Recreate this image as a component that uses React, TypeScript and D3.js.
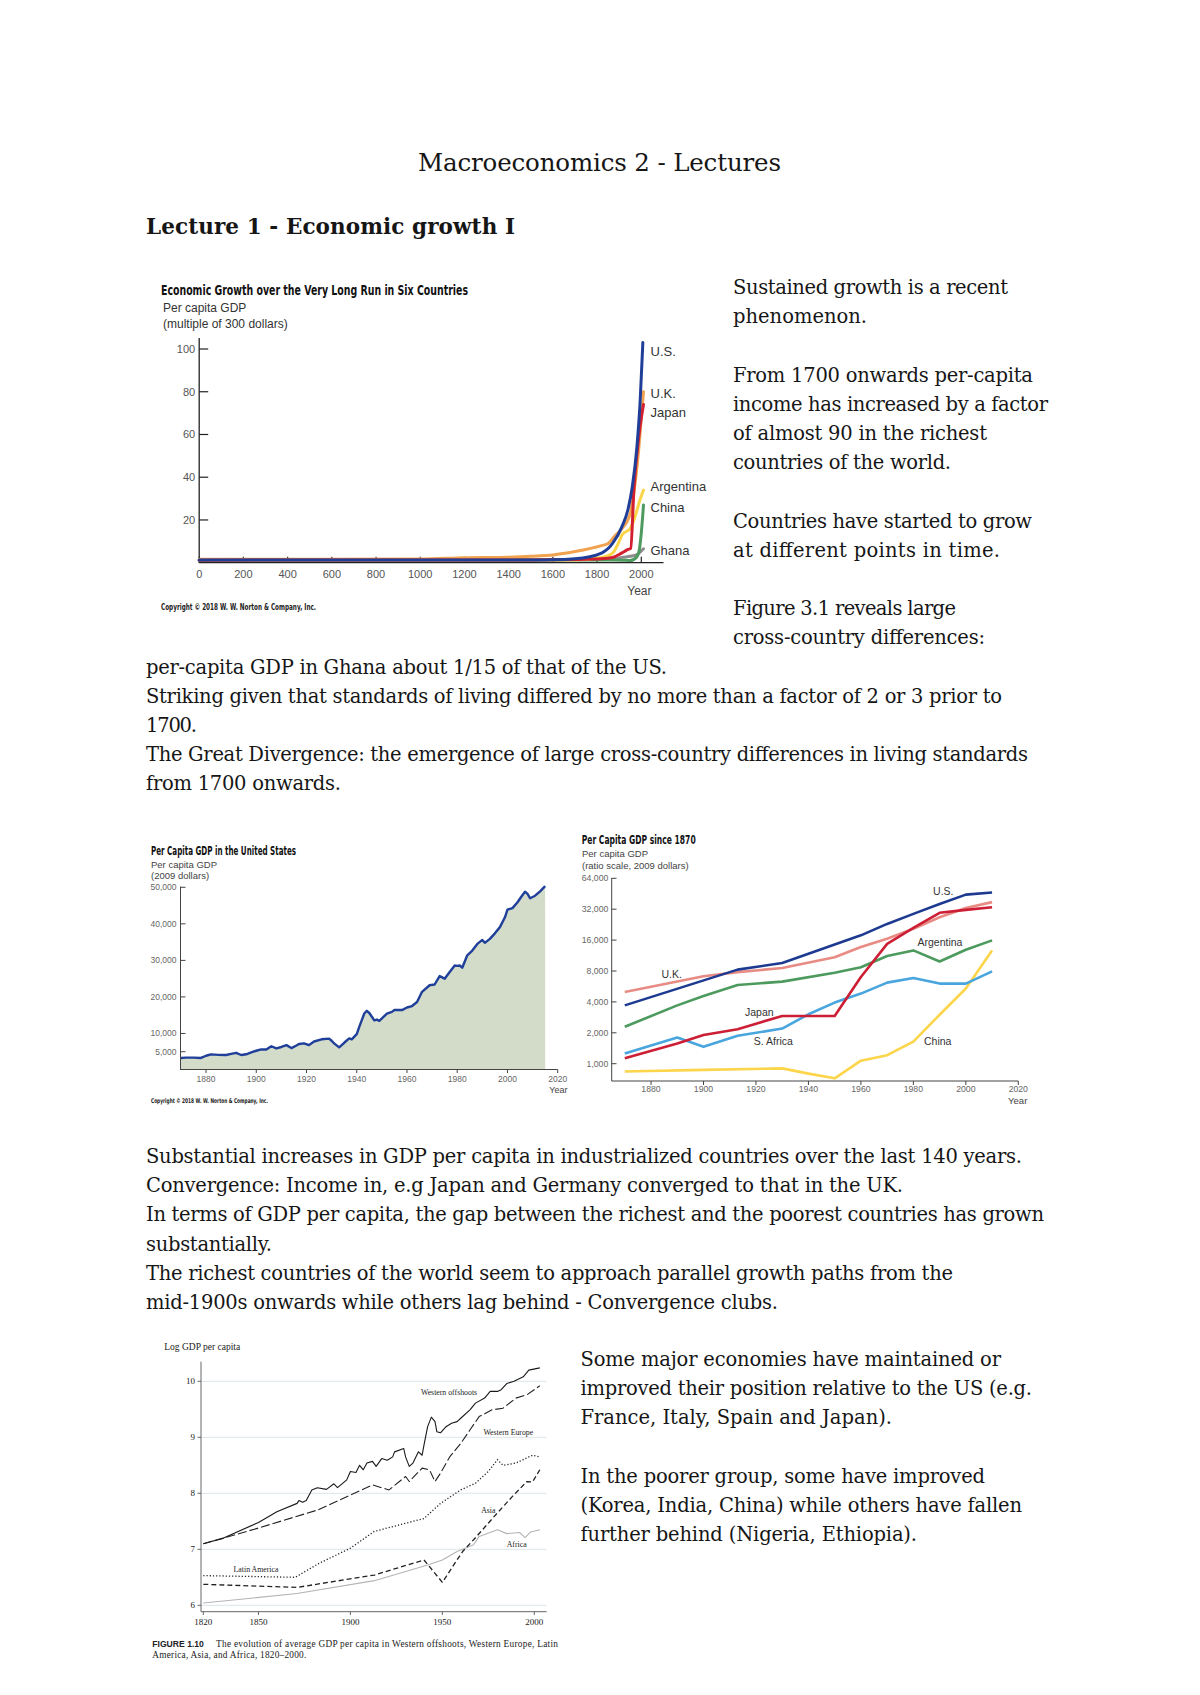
import React from "react";
import * as d3 from "d3";

type Pt = [number, number];

// ---------------- Page text ----------------
const pageTitle = "Macroeconomics 2 - Lectures";
const sectionTitle = "Lecture 1 - Economic growth I";

const sideText1 = [
  "Sustained growth is a recent",
  "phenomenon.",
  "",
  "From 1700 onwards per-capita",
  "income has increased by a factor",
  "of almost 90 in the richest",
  "countries of the world.",
  "",
  "Countries have started to grow",
  "at different points in time.",
  "",
  "Figure 3.1 reveals large",
  "cross-country differences:",
];
const wideText1 = [
  "per-capita GDP in Ghana about 1/15 of that of the US.",
  "Striking given that standards of living differed by no more than a factor of 2 or 3 prior to",
  "1700.",
  "The Great Divergence: the emergence of large cross-country differences in living standards",
  "from 1700 onwards.",
];
const wideText2 = [
  "Substantial increases in GDP per capita in industrialized countries over the last 140 years.",
  "Convergence: Income in, e.g Japan and Germany converged to that in the UK.",
  "In terms of GDP per capita, the gap between the richest and the poorest countries has grown",
  "substantially.",
  "The richest countries of the world seem to approach parallel growth paths from the",
  "mid-1900s onwards while others lag behind - Convergence clubs.",
];
const sideText3 = [
  "Some major economies have maintained or",
  "improved their position relative to the US (e.g.",
  "France, Italy, Spain and Japan).",
  "",
  "In the poorer group, some have improved",
  "(Korea, India, China) while others have fallen",
  "further behind (Nigeria, Ethiopia).",
];

// layout: right edges of each text line (to match the reference line lengths)
const sideEdges1 = [1008, 867, 0, 1033, 1048, 987, 951, 0, 1032, 1000, 0, 956, 985];
const wideEdges1 = [667, 1002, 197, 1028, 341];
const wideEdges2 = [1022, 903, 1044, 272, 953, 778];
const sideEdges3 = [1001, 1032, 892, 0, 985, 1022, 917];

// ---------------- Chart 1: very long run (multiple of 300 dollars) ----------------
const longRunXTicks = [0, 200, 400, 600, 800, 1000, 1200, 1400, 1600, 1800, 2000];
const longRunYTicks = [20, 40, 60, 80, 100];
const longUS: Pt[] = [[0, 1.3], [1000, 1.3], [1500, 1.3], [1600, 1.35], [1700, 1.8], [1820, 4.5], [1870, 9], [1913, 17], [1940, 25], [1960, 36], [1980, 54], [1995, 76], [2007, 103]];
const longUK: Pt[] = [[0, 1.6], [1000, 1.7], [1200, 2.3], [1400, 2.6], [1500, 3], [1600, 3.6], [1700, 5.2], [1820, 8], [1850, 9], [1880, 12.5], [1913, 16], [1950, 23], [1973, 38], [1990, 55], [2000, 68], [2010, 80]];
const longJapan: Pt[] = [[0, 1.2], [1500, 1.3], [1600, 1.4], [1700, 1.5], [1820, 1.8], [1870, 2.4], [1913, 4.6], [1940, 6.2], [1952, 6.7], [1967, 35], [1990, 60], [2010, 74]];
const longArgentina: Pt[] = [[0, 1.2], [1700, 1.3], [1820, 2.5], [1870, 4.5], [1900, 10], [1913, 13], [1950, 16], [1973, 22], [1990, 28], [2010, 34]];
const longChina: Pt[] = [[0, 1.3], [1800, 1.3], [1870, 1.3], [1913, 1.2], [1950, 1.0], [1978, 2.5], [1990, 5.5], [2000, 14], [2010, 27]];
const longGhana: Pt[] = [[0, 1.2], [1870, 1.5], [1913, 2.5], [1950, 3], [1980, 3.8], [2010, 6.5]];

// ---------------- Chart 2: US per capita GDP (2009 dollars) ----------------
const usXTicks = [1880, 1900, 1920, 1940, 1960, 1980, 2000, 2020];
const usYTicks = [5000, 10000, 20000, 30000, 40000, 50000];
const usGdp: Pt[] = [
  [1870, 3300], [1872, 3400], [1875, 3400], [1878, 3300], [1880, 3900], [1882, 4270], [1885, 4150], [1888, 4100],
  [1890, 4400], [1892, 4700], [1894, 4100], [1896, 4300], [1898, 4800], [1900, 5270], [1902, 5640], [1904, 5600],
  [1906, 6500], [1908, 5900], [1910, 6300], [1912, 6800], [1914, 6000], [1916, 6700], [1917, 7100], [1919, 7300],
  [1921, 6800], [1923, 7800], [1926, 8400], [1929, 8600], [1930, 8000], [1931, 7300], [1933, 6200], [1935, 7450],
  [1937, 8640], [1938, 8400], [1940, 9800], [1941, 11800], [1943, 15450], [1944, 16200], [1945, 15600], [1947, 13600],
  [1948, 13800], [1949, 13450], [1952, 15450], [1954, 15900], [1955, 16400], [1958, 16400], [1960, 17100], [1962, 17500],
  [1964, 18600], [1966, 21400], [1969, 23200], [1971, 23400], [1973, 25700], [1975, 25000], [1977, 26800], [1979, 28600],
  [1980, 28500], [1981, 28600], [1982, 28000], [1984, 31400], [1986, 32700], [1988, 34500], [1990, 35600], [1991, 34800],
  [1993, 35900], [1995, 37400], [1997, 39100], [1999, 41800], [2000, 43900], [2002, 44300], [2004, 45900], [2006, 47900],
  [2007, 48800], [2008, 48200], [2009, 47000], [2011, 47700], [2013, 48900], [2015, 50300],
];

// ---------------- Chart 3: per capita GDP since 1870 (ratio scale) ----------------
const ratioXTicks = [1880, 1900, 1920, 1940, 1960, 1980, 2000, 2020];
const ratioYTicks = [1000, 2000, 4000, 8000, 16000, 32000, 64000];
const ratioUS: Pt[] = [[1870, 3700], [1913, 8250], [1930, 9570], [1950, 14500], [1960, 17800], [1970, 23000], [1980, 28800], [1990, 36000], [2000, 44400], [2010, 46500]];
const ratioUK: Pt[] = [[1870, 5000], [1900, 7100], [1913, 7800], [1930, 8550], [1950, 10900], [1960, 13700], [1970, 16500], [1980, 20600], [1990, 26700], [2000, 32900], [2010, 37500]];
const ratioJapan: Pt[] = [[1870, 1130], [1890, 1570], [1900, 1900], [1913, 2170], [1930, 2920], [1950, 2920], [1960, 7000], [1970, 14700], [1980, 21000], [1990, 29500], [2000, 31500], [2010, 33400]];
const ratioArgentina: Pt[] = [[1870, 2290], [1890, 3700], [1900, 4570], [1913, 5850], [1930, 6300], [1950, 7700], [1960, 8700], [1970, 11200], [1980, 12700], [1990, 9900], [2000, 12900], [2010, 15900]];
const ratioSAfrica: Pt[] = [[1870, 1260], [1890, 1800], [1900, 1460], [1913, 1870], [1930, 2200], [1940, 3030], [1950, 3940], [1960, 4820], [1970, 6160], [1980, 6830], [1990, 6030], [2000, 6030], [2010, 7940]];
const ratioChina: Pt[] = [[1870, 840], [1900, 870], [1930, 900], [1940, 800], [1950, 720], [1960, 1070], [1970, 1210], [1980, 1640], [1990, 3000], [2000, 5400], [2010, 12700]];

// ---------------- Chart 4: log GDP per capita by region ----------------
const logXTicks = [1820, 1850, 1900, 1950, 2000];
const logYTicks = [6, 7, 8, 9, 10];
const westernOffshoots: Pt[] = [
  [1820, 7.1], [1831, 7.2], [1850, 7.48], [1860, 7.67], [1871, 7.82], [1872, 7.87], [1874, 7.84], [1876, 7.87],
  [1879, 8.06], [1882, 8.1], [1887, 8.07], [1891, 8.17], [1893, 8.1], [1898, 8.24], [1900, 8.39], [1903, 8.37],
  [1905, 8.5], [1907, 8.42], [1909, 8.54], [1912, 8.57], [1914, 8.48], [1917, 8.62], [1920, 8.59], [1923, 8.65],
  [1924, 8.74], [1929, 8.8], [1930, 8.65], [1932, 8.48], [1934, 8.54], [1937, 8.74], [1939, 8.68], [1940, 8.86],
  [1942, 9.19], [1944, 9.36], [1946, 9.28], [1947, 9.1], [1949, 9.08], [1952, 9.19], [1955, 9.25], [1958, 9.28],
  [1960, 9.34], [1965, 9.49], [1968, 9.61], [1973, 9.7], [1976, 9.82], [1980, 9.82], [1982, 9.85], [1985, 9.96],
  [1989, 10.0], [1994, 10.08], [1997, 10.2], [2003, 10.24],
];
const westernEurope: Pt[] = [
  [1820, 7.1], [1831, 7.2], [1850, 7.38], [1882, 7.7], [1900, 7.97], [1912, 8.15], [1921, 8.06], [1930, 8.3],
  [1932, 8.21], [1939, 8.45], [1943, 8.42], [1946, 8.21], [1949, 8.36], [1954, 8.65], [1960, 8.89], [1965, 9.13],
  [1970, 9.37], [1977, 9.49], [1983, 9.52], [1990, 9.7], [1996, 9.76], [2003, 9.92],
];
const latinAmerica: Pt[] = [
  [1820, 6.53], [1870, 6.5], [1883, 6.75], [1900, 7.02], [1913, 7.32], [1940, 7.55], [1949, 7.82], [1960, 8.06],
  [1968, 8.18], [1975, 8.39], [1980, 8.6], [1983, 8.5], [1990, 8.54], [1999, 8.68], [2003, 8.65],
];
const asia: Pt[] = [
  [1820, 6.375], [1871, 6.32], [1913, 6.54], [1940, 6.81], [1950, 6.41], [1961, 6.96], [1967, 7.17], [1978, 7.58],
  [1988, 7.94], [1996, 8.21], [1999, 8.2], [2003, 8.42],
];
const africa: Pt[] = [
  [1820, 6.04], [1871, 6.21], [1913, 6.44], [1942, 6.72], [1950, 6.81], [1958, 6.96], [1967, 7.08], [1970, 7.23],
  [1980, 7.35], [1985, 7.28], [1992, 7.3], [1995, 7.21], [1998, 7.31], [2003, 7.35],
];

// ---------------- Fonts ----------------
const serif = "'DejaVu Serif', Georgia, serif";
const sans = "'Liberation Sans', Arial, Helvetica, sans-serif";
const narrow = "'Liberation Sans Narrow', 'DejaVu Sans Condensed', 'Liberation Sans', sans-serif";
const times = "'Liberation Serif', 'Times New Roman', serif";

function TextBlock({ lines, edges, x, y0, step, size }: { lines: string[]; edges: number[]; x: number; y0: number; step: number; size: number }) {
  return (
    <g fontFamily={serif} fontSize={size} fill="#161616">
      {lines.map((t, i) =>
        t ? (
          <text key={i} x={x} y={y0 + i * step} textLength={edges[i] - x} lengthAdjust="spacing">
            {t}
          </text>
        ) : null
      )}
    </g>
  );
}

function LongRunChart() {
  const x = d3.scaleLinear().domain([0, 2000]).range([199.2, 641.3]);
  const y = d3.scaleLinear().domain([0, 100]).range([562.7, 349]);
  const line = d3.line<Pt>().x((d) => x(d[0])).y((d) => y(d[1])).curve(d3.curveMonotoneX);
  const series = [
    { data: longGhana, color: "#8c8c8c" },
    { data: longChina, color: "#4f9a5f" },
    { data: longArgentina, color: "#fbd548" },
    { data: longUK, color: "#f0a24e" },
    { data: longJapan, color: "#d3202f" },
    { data: longUS, color: "#1f3e98" },
  ];
  const labels = [
    { t: "U.S.", y: 351.7 },
    { t: "U.K.", y: 393.3 },
    { t: "Japan", y: 412.7 },
    { t: "Argentina", y: 486.7 },
    { t: "China", y: 507.7 },
    { t: "Ghana", y: 550.7 },
  ];
  return (
    <g>
      <text x={161} y={295} fontFamily={narrow} fontWeight="bold" fontSize={14} fill="#111" textLength={307} lengthAdjust="spacingAndGlyphs">
        Economic Growth over the Very Long Run in Six Countries
      </text>
      <text x={163} y={312} fontFamily={sans} fontSize={12} fill="#333">Per capita GDP</text>
      <text x={163} y={327.5} fontFamily={sans} fontSize={12} fill="#333">(multiple of 300 dollars)</text>
      <line x1={x(0)} x2={x(0)} y1={338} y2={y(0)} stroke="#222" strokeWidth={1.3} />
      <line x1={x(0)} x2={663.5} y1={y(0)} y2={y(0)} stroke="#222" strokeWidth={1.3} />
      {longRunYTicks.map((v) => (
        <g key={v}>
          <line x1={x(0)} x2={x(0) + 9} y1={y(v)} y2={y(v)} stroke="#222" strokeWidth={1.2} />
          <text x={x(0) - 4} y={y(v) + 4} textAnchor="end" fontFamily={sans} fontSize={11} fill="#555">{v}</text>
        </g>
      ))}
      {longRunXTicks.map((v) => (
        <g key={v}>
          <line x1={x(v)} x2={x(v)} y1={y(0)} y2={y(0) - 6} stroke="#222" strokeWidth={1.2} />
          <text x={x(v)} y={578} textAnchor="middle" fontFamily={sans} fontSize={11} fill="#555">{v}</text>
        </g>
      ))}
      <text x={639.4} y={595} textAnchor="middle" fontFamily={sans} fontSize={12} fill="#444">Year</text>
      {series.map((s, i) => (
        <path key={i} d={line(s.data) || ""} fill="none" stroke={s.color} strokeWidth={3} strokeLinejoin="round" strokeLinecap="round" />
      ))}
      {labels.map((l) => (
        <text key={l.t} x={650.5} y={l.y + 4.5} fontFamily={sans} fontSize={13} fill="#333">{l.t}</text>
      ))}
      <text x={161} y={610} fontFamily={narrow} fontWeight="bold" fontSize={8} fill="#222" textLength={155} lengthAdjust="spacingAndGlyphs">
        Copyright © 2018 W. W. Norton &amp; Company, Inc.
      </text>
    </g>
  );
}

function USChart() {
  const x = d3.scaleLinear().domain([1870, 2020]).range([180.9, 557.7]);
  const y = d3.scaleLinear().domain([0, 50000]).range([1070, 887.3]);
  const line = d3.line<Pt>().x((d) => x(d[0])).y((d) => y(d[1]));
  const area = d3.area<Pt>().x((d) => x(d[0])).y0(y(0)).y1((d) => y(d[1]));
  const fmt = d3.format(",");
  return (
    <g>
      <text x={151} y={854.5} fontFamily={narrow} fontWeight="bold" fontSize={11.5} fill="#111" textLength={145} lengthAdjust="spacingAndGlyphs">
        Per Capita GDP in the United States
      </text>
      <text x={151} y={867.5} fontFamily={sans} fontSize={9.5} fill="#444">Per capita GDP</text>
      <text x={151} y={878.5} fontFamily={sans} fontSize={9.5} fill="#444">(2009 dollars)</text>
      <path d={area(usGdp) || ""} fill="#d3dbc9" />
      <line x1={180.5} x2={180.5} y1={886.5} y2={1070} stroke="#444" strokeWidth={1} />
      <line x1={180.5} x2={557.7} y1={1069.5} y2={1069.5} stroke="#444" strokeWidth={1} />
      {usYTicks.map((v) => (
        <g key={v}>
          <line x1={180.5} x2={185.5} y1={y(v)} y2={y(v)} stroke="#444" strokeWidth={1} />
          <text x={176.5} y={y(v) + 3} textAnchor="end" fontFamily={sans} fontSize={8.5} fill="#666">{fmt(v)}</text>
        </g>
      ))}
      {usXTicks.map((v) => (
        <g key={v}>
          <line x1={x(v)} x2={x(v)} y1={1069.5} y2={1073} stroke="#444" strokeWidth={1} />
          <text x={x(v)} y={1081.5} textAnchor="middle" fontFamily={sans} fontSize={8.5} fill="#666">{v}</text>
        </g>
      ))}
      <text x={558.3} y={1092.5} textAnchor="middle" fontFamily={sans} fontSize={9} fill="#444">Year</text>
      <path d={line(usGdp) || ""} fill="none" stroke="#1f3f9a" strokeWidth={2.4} strokeLinejoin="round" />
      <text x={151} y={1103} fontFamily={narrow} fontWeight="bold" fontSize={6.5} fill="#222" textLength={117} lengthAdjust="spacingAndGlyphs">
        Copyright © 2018 W. W. Norton &amp; Company, Inc.
      </text>
    </g>
  );
}

function RatioChart() {
  const x = d3.scaleLinear().domain([1870, 2020]).range([624.8, 1018.3]);
  const y = d3.scaleLog().base(2).domain([1000, 64000]).range([1063.7, 878.3]);
  const line = d3.line<Pt>().x((d) => x(d[0])).y((d) => y(d[1]));
  const fmt = d3.format(",");
  const series = [
    { data: ratioChina, color: "#fdd54b" },
    { data: ratioSAfrica, color: "#48a5de" },
    { data: ratioArgentina, color: "#4c9a5d" },
    { data: ratioUK, color: "#e88b84" },
    { data: ratioJapan, color: "#cc1f35" },
    { data: ratioUS, color: "#1d3a91" },
  ];
  const labels = [
    { t: "U.S.", x: 943.3, y: 891.7 },
    { t: "U.K.", x: 671.7, y: 974 },
    { t: "Argentina", x: 940, y: 942.7 },
    { t: "Japan", x: 759.3, y: 1012.3 },
    { t: "S. Africa", x: 773.3, y: 1041 },
    { t: "China", x: 937.7, y: 1041 },
  ];
  return (
    <g>
      <text x={581.7} y={844} fontFamily={narrow} fontWeight="bold" fontSize={11.5} fill="#111" textLength={114} lengthAdjust="spacingAndGlyphs">
        Per Capita GDP since 1870
      </text>
      <text x={582} y={857} fontFamily={sans} fontSize={9.5} fill="#444">Per capita GDP</text>
      <text x={582} y={868.5} fontFamily={sans} fontSize={9.5} fill="#444">(ratio scale, 2009 dollars)</text>
      <line x1={611.7} x2={611.7} y1={878} y2={1081} stroke="#444" strokeWidth={1} />
      <line x1={611.7} x2={1018.3} y1={1081} y2={1081} stroke="#444" strokeWidth={1} />
      {ratioYTicks.map((v) => (
        <g key={v}>
          <line x1={611.7} x2={616.5} y1={y(v)} y2={y(v)} stroke="#444" strokeWidth={1} />
          <text x={608.3} y={y(v) + 3} textAnchor="end" fontFamily={sans} fontSize={8.7} fill="#666">{fmt(v)}</text>
        </g>
      ))}
      {ratioXTicks.map((v) => (
        <g key={v}>
          <line x1={x(v)} x2={x(v)} y1={1081} y2={1085} stroke="#444" strokeWidth={1} />
          <text x={x(v)} y={1091.5} textAnchor="middle" fontFamily={sans} fontSize={8.7} fill="#666">{v}</text>
        </g>
      ))}
      <text x={1017.7} y={1104} textAnchor="middle" fontFamily={sans} fontSize={9.5} fill="#444">Year</text>
      {series.map((s, i) => (
        <path key={i} d={line(s.data) || ""} fill="none" stroke={s.color} strokeWidth={2.6} strokeLinejoin="round" />
      ))}
      {labels.map((l) => (
        <text key={l.t} x={l.x} y={l.y + 3.7} textAnchor="middle" fontFamily={sans} fontSize={10.5} fill="#333">{l.t}</text>
      ))}
    </g>
  );
}

function LogChart() {
  const x = d3.scaleLinear().domain([1820, 2000]).range([203.3, 534.3]);
  const y = d3.scaleLinear().domain([6, 10]).range([1605.3, 1381.3]);
  const line = d3.line<Pt>().x((d) => x(d[0])).y((d) => y(d[1]));
  const series = [
    { data: africa, color: "#b4b4b4", w: 1.1, dash: "" },
    { data: latinAmerica, color: "#222", w: 1.3, dash: "1.2,2" },
    { data: asia, color: "#222", w: 1.3, dash: "5,3" },
    { data: westernEurope, color: "#222", w: 1.1, dash: "9,3" },
    { data: westernOffshoots, color: "#1a1a1a", w: 1.1, dash: "" },
  ];
  const labels = [
    { t: "Western offshoots", x: 449, y: 1392.3 },
    { t: "Western Europe", x: 508.3, y: 1432.3 },
    { t: "Asia", x: 488.3, y: 1510.7 },
    { t: "Africa", x: 516.7, y: 1544 },
    { t: "Latin America", x: 256, y: 1569.3 },
  ];
  return (
    <g>
      <text x={164.3} y={1350} fontFamily={times} fontSize={9.5} fill="#222">Log GDP per capita</text>
      {logYTicks.map((v) => (
        <g key={v}>
          <line x1={201} x2={546.7} y1={y(v)} y2={y(v)} stroke="#d9e5ec" strokeWidth={1} />
          <line x1={197.5} x2={201} y1={y(v)} y2={y(v)} stroke="#444" strokeWidth={0.8} />
          <text x={195} y={y(v) + 3} textAnchor="end" fontFamily={times} fontSize={9} fill="#222">{v}</text>
        </g>
      ))}
      <line x1={201} x2={201} y1={1361.7} y2={1611.7} stroke="#555" strokeWidth={0.9} />
      <line x1={201} x2={546.7} y1={1611.7} y2={1611.7} stroke="#555" strokeWidth={0.9} />
      {logXTicks.map((v) => (
        <g key={v}>
          <line x1={x(v)} x2={x(v)} y1={1611.7} y2={1615} stroke="#444" strokeWidth={0.8} />
          <text x={x(v)} y={1625} textAnchor="middle" fontFamily={times} fontSize={9} fill="#222">{v}</text>
        </g>
      ))}
      {series.map((s, i) => (
        <path key={i} d={line(s.data) || ""} fill="none" stroke={s.color} strokeWidth={s.w} strokeDasharray={s.dash || undefined} strokeLinejoin="round" />
      ))}
      {labels.map((l) => (
        <text key={l.t} x={l.x} y={l.y + 2.7} textAnchor="middle" fontFamily={times} fontSize={7.8} fill="#222">{l.t}</text>
      ))}
      <text x={152.3} y={1646.5} fontFamily={sans} fontWeight="bold" fontSize={8.6} fill="#222">FIGURE 1.10</text>
      <text x={216} y={1646.5} fontFamily={times} fontSize={9.3} fill="#222" textLength={342} lengthAdjust="spacing">
        The evolution of average GDP per capita in Western offshoots, Western Europe, Latin
      </text>
      <text x={152.3} y={1657.5} fontFamily={times} fontSize={9.3} fill="#222" textLength={154} lengthAdjust="spacing">
        America, Asia, and Africa, 1820–2000.
      </text>
    </g>
  );
}

export default function App() {
  const step = 29.2;
  return (
    <svg width={1200} height={1695} viewBox="0 0 1200 1695" style={{ position: "absolute", left: 0, top: 0, background: "#fff" }}>
      <rect x={0} y={0} width={1200} height={1695} fill="#fff" />
      <text x={418} y={170.5} fontFamily={serif} fontSize={24.5} fill="#161616" textLength={363} lengthAdjust="spacing">
        {pageTitle}
      </text>
      <text x={146} y={234} fontFamily={serif} fontWeight="bold" fontSize={21.5} fill="#161616" textLength={369} lengthAdjust="spacing">
        {sectionTitle}
      </text>
      <TextBlock lines={sideText1} edges={sideEdges1} x={733} y0={294} step={step} size={19.5} />
      <TextBlock lines={wideText1} edges={wideEdges1} x={146} y0={294 + sideText1.length * step} step={step} size={19.5} />
      <TextBlock lines={wideText2} edges={wideEdges2} x={146} y0={1163} step={step} size={19.5} />
      <TextBlock lines={sideText3} edges={sideEdges3} x={580.5} y0={1366} step={step} size={19.5} />
      <LongRunChart />
      <USChart />
      <RatioChart />
      <LogChart />
    </svg>
  );
}
